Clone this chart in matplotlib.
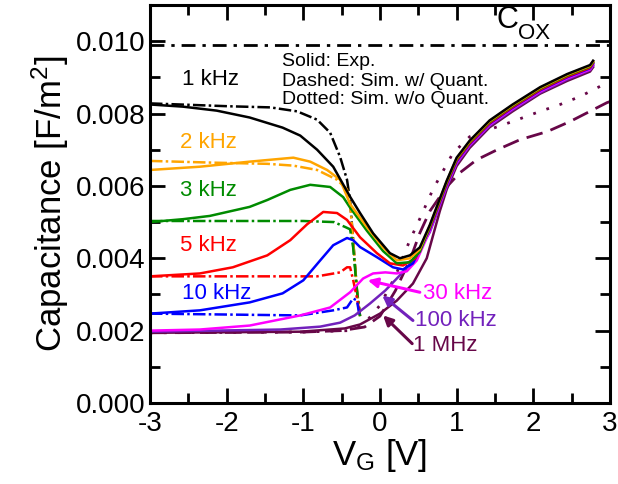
import numpy as np
import matplotlib
matplotlib.use("Agg")
import matplotlib.pyplot as plt

plt.rcParams['font.family'] = ['Liberation Sans', 'DejaVu Sans']
plt.rcParams['mathtext.fontset'] = 'custom'
plt.rcParams['mathtext.rm'] = 'Liberation Sans'
plt.rcParams['mathtext.it'] = 'Liberation Sans:italic'

# ---- experimental (solid) curves ----
v_1k = [-3, -2.57, -2.13, -1.70, -1.27, -1.04, -0.82, -0.61, -0.39, -0.26, -0.09, 0.13, 0.26, 0.39, 0.52,
        0.65, 0.87, 1.0, 1.17, 1.43, 1.73, 2.09, 2.44, 2.74, 2.78]
c_1k = [0.00825, 0.00819, 0.00808, 0.00789, 0.00761, 0.00739, 0.0070, 0.00653, 0.0057, 0.00525, 0.00469,
        0.00414, 0.0040, 0.00408, 0.0043, 0.00492, 0.00614, 0.00678, 0.00725, 0.00781, 0.00825, 0.00873,
        0.00909, 0.00934, 0.00946]

v_2k = [-3, -2.35, -1.70, -1.13, -0.91, -0.69, -0.52, -0.39, -0.17, 0.04, 0.22, 0.39, 0.52, 0.65, 0.87,
        1.0, 1.17, 1.43, 1.73, 2.09, 2.44, 2.74, 2.78]
c_2k = [0.00644, 0.00653, 0.00667, 0.00678, 0.00667, 0.00644, 0.00617, 0.0055, 0.00486, 0.0043, 0.00394,
        0.0040, 0.00425, 0.0049, 0.00612, 0.00676, 0.00723, 0.00779, 0.00823, 0.00871, 0.00907, 0.00932,
        0.00944]

v_3k = [-3, -2.57, -2.22, -1.70, -1.47, -1.17, -0.91, -0.65, -0.48, -0.39, -0.17, 0.04, 0.22, 0.39, 0.52,
        0.65, 0.87, 1.0, 1.17, 1.43, 1.73, 2.09, 2.44, 2.74, 2.78]
c_3k = [0.0050, 0.00508, 0.00517, 0.00542, 0.00561, 0.00589, 0.00603, 0.00597, 0.00569, 0.0054, 0.00476,
        0.0042, 0.00386, 0.00389, 0.00418, 0.00487, 0.0061, 0.00674, 0.00721, 0.00777, 0.00821, 0.00869,
        0.00905, 0.0093, 0.00942]

v_5k = [-3, -2.35, -1.92, -1.47, -1.17, -0.95, -0.74, -0.56, -0.43, -0.26, -0.04, 0.13, 0.30, 0.46, 0.65,
        0.87, 1.0, 1.17, 1.43, 1.73, 2.09, 2.44, 2.74, 2.78]
c_5k = [0.0035, 0.00358, 0.00375, 0.00408, 0.0045, 0.00494, 0.00528, 0.00525, 0.00506, 0.00458, 0.00414,
        0.00386, 0.0038, 0.0040, 0.00484, 0.00607, 0.00671, 0.00718, 0.00774, 0.00818, 0.00866, 0.00902,
        0.00927, 0.0094]

v_10k = [-3, -2.35, -1.70, -1.27, -1.0, -0.78, -0.61, -0.43, -0.35, -0.26, -0.04, 0.17, 0.30, 0.43, 0.65,
         0.87, 1.0, 1.17, 1.43, 1.73, 2.09, 2.44, 2.74, 2.78]
c_10k = [0.00247, 0.00256, 0.00278, 0.00303, 0.00339, 0.00394, 0.00436, 0.00456, 0.0045, 0.00431, 0.00403,
         0.00375, 0.00369, 0.00386, 0.00481, 0.00604, 0.00668, 0.00716, 0.00772, 0.00816, 0.00864, 0.009,
         0.00925, 0.00938]

v_30k = [-3, -2.35, -1.70, -1.30, -1.04, -0.65, -0.39, -0.22, -0.09, 0.07, 0.22, 0.35, 0.48, 0.65, 0.87,
         1.0, 1.17, 1.43, 1.73, 2.09, 2.44, 2.74, 2.78]
c_30k = [0.0020, 0.00203, 0.00214, 0.00231, 0.00242, 0.00264, 0.00306, 0.00344, 0.00358, 0.00361, 0.00358,
         0.00364, 0.00394, 0.00476, 0.006, 0.00664, 0.00713, 0.00769, 0.00813, 0.00861, 0.00897, 0.00922,
         0.00935]

v_100k = [-3, -1.30, -0.78, -0.52, -0.33, -0.13, 0.07, 0.26, 0.43, 0.65, 0.87, 1.0, 1.17, 1.43, 1.73,
          2.09, 2.44, 2.74, 2.78]
c_100k = [0.00197, 0.00203, 0.00211, 0.00222, 0.00242, 0.00275, 0.00311, 0.00353, 0.00394, 0.00472,
          0.00597, 0.00661, 0.0071, 0.00766, 0.0081, 0.00858, 0.00894, 0.0092, 0.00932]

v_1m = [-3, -1.04, -0.46, -0.26, 0.0, 0.22, 0.43, 0.61, 0.78, 0.87, 1.0, 1.17, 1.43, 1.73, 2.09, 2.44,
        2.74, 2.78]
c_1m = [0.00194, 0.00197, 0.00206, 0.00217, 0.00247, 0.00283, 0.0033, 0.0040, 0.0053, 0.0059, 0.00655,
        0.00705, 0.00762, 0.00806, 0.00855, 0.0089, 0.00916, 0.00928]

# ---- simulation w/ quantization (dash-dot), low frequencies ----
vs_1k = [-3, -1.96, -1.43, -1.08, -0.82, -0.65, -0.52, -0.43, -0.39, -0.35, -0.30, -0.26]
cs_1k = [0.00828, 0.0082, 0.00817, 0.00806, 0.00783, 0.00747, 0.0068, 0.00617, 0.0056, 0.0045, 0.0031, 0.0024]
vs_2k = [-3, -2.13, -1.47, -1.13, -0.82, -0.56, -0.43, -0.39, -0.35, -0.30, -0.26]
cs_2k = [0.00669, 0.00664, 0.00661, 0.00656, 0.00644, 0.00617, 0.0059, 0.0055, 0.0045, 0.0031, 0.0024]
vs_3k = [-3, -1.0, -0.6, -0.45, -0.39, -0.35, -0.30, -0.26]
cs_3k = [0.00503, 0.00503, 0.0050, 0.00486, 0.0048, 0.0043, 0.0031, 0.0024]
vs_5k = [-3, -0.82, -0.52, -0.43, -0.39, -0.35, -0.30, -0.26]
cs_5k = [0.0035, 0.0035, 0.00361, 0.00375, 0.00375, 0.0034, 0.0029, 0.0024]
vs_10k = [-3, -1.04, -0.61, -0.43, -0.35, -0.30, -0.27]
cs_10k = [0.00247, 0.00242, 0.00256, 0.00264, 0.00289, 0.00283, 0.00245]

# ---- 1 MHz simulations ----
vs_1m = [-3, -1.0, -0.5, -0.2, 0.0, 0.2, 0.4, 0.52, 0.65, 0.87, 1.04, 1.26, 1.53, 1.83, 2.18, 2.48, 2.96, 3.0]
cs_1m = [0.00194, 0.00196, 0.002, 0.0021, 0.0024, 0.0031, 0.0040, 0.0047, 0.0053, 0.00597, 0.00636,
         0.00672, 0.007, 0.00728, 0.0075, 0.00778, 0.0083, 0.00833]
vd_1m = [-3, -1.0, -0.4, -0.2, 0.0, 0.2, 0.39, 0.50, 0.69, 0.95, 1.17, 1.43, 1.73, 2.05, 2.35, 2.61, 2.87, 3.0]
cd_1m = [0.00194, 0.00196, 0.002, 0.0022, 0.0027, 0.0035, 0.0045, 0.0050, 0.0059, 0.0069, 0.00736,
         0.00756, 0.00778, 0.00803, 0.00825, 0.00847, 0.00875, 0.00886]

c_ox = 0.0099

col_1k, col_2k, col_3k = 'black', '#ffa500', '#008b00'
col_5k, col_10k, col_30k = '#ff0000', '#0000ff', '#ff00ff'
col_100k, col_1m = '#7221bc', '#670748'

fig = plt.figure(figsize=(6.18, 4.84), dpi=100)
ax = fig.add_axes([0.2427, 0.1674, 0.7443, 0.8223])

dd = (5, 1.3, 1, 1.3)
lw = 1.8
ax.plot([-3, 3], [c_ox, c_ox], color='black', lw=2, dashes=(5, 2.5, 1.2, 2.5))

ax.plot(vs_1m, cs_1m, color=col_1m, lw=2, dashes=(6, 3))
ax.plot(vd_1m, cd_1m, color=col_1m, lw=2, dashes=(1, 4))

for v, c, col in [(vs_1k, cs_1k, col_1k), (vs_2k, cs_2k, col_2k), (vs_3k, cs_3k, col_3k),
                  (vs_5k, cs_5k, col_5k), (vs_10k, cs_10k, col_10k)]:
    ax.plot(v, c, color=col, lw=lw, dashes=dd)

for v, c, col in [(v_1m, c_1m, col_1m), (v_100k, c_100k, col_100k), (v_30k, c_30k, col_30k),
                  (v_10k, c_10k, col_10k), (v_5k, c_5k, col_5k), (v_3k, c_3k, col_3k),
                  (v_2k, c_2k, col_2k), (v_1k, c_1k, col_1k)]:
    ax.plot(v, c, color=col, lw=lw)

fs = 16
ax.text(-2.58, 0.00894, '1 kHz', color=col_1k, fontsize=fs, va='center')
ax.text(-2.61, 0.0072, '2 kHz', color=col_2k, fontsize=fs, va='center')
ax.text(-2.61, 0.00586, '3 kHz', color=col_3k, fontsize=fs, va='center')
ax.text(-2.61, 0.00436, '5 kHz', color=col_5k, fontsize=fs, va='center')
ax.text(-2.58, 0.00303, '10 kHz', color=col_10k, fontsize=fs, va='center')
ax.text(0.56, 0.00303, '30 kHz', color=col_30k, fontsize=fs, va='center')
ax.text(0.46, 0.00228, '100 kHz', color=col_100k, fontsize=fs, va='center')
ax.text(0.43, 0.00158, '1 MHz', color=col_1m, fontsize=fs, va='center')

ap = dict(arrowstyle='-|>', lw=2.2, mutation_scale=14, shrinkA=0, shrinkB=0)
ax.annotate('', xy=(-0.16, 0.00339), xytext=(0.52, 0.00306), arrowprops=dict(ap, color=col_30k))
ax.annotate('', xy=(0.03, 0.00297), xytext=(0.43, 0.00228), arrowprops=dict(ap, color=col_100k))
ax.annotate('', xy=(0.04, 0.00242), xytext=(0.42, 0.00164), arrowprops=dict(ap, color=col_1m))

ax.text(-1.28, 0.00944, 'Solid: Exp.', fontsize=14, va='center')
ax.text(-1.28, 0.00889, 'Dashed: Sim. w/ Quant.', fontsize=14, va='center')
ax.text(-1.28, 0.00839, 'Dotted: Sim. w/o Quant.', fontsize=14, va='center')
ax.text(1.52, 0.01058, 'C', fontsize=22, va='center')
ax.text(1.80, 0.01022, 'OX', fontsize=16, va='center')

ax.set_xlim(-3, 3)
ax.set_ylim(0, 0.011)
ax.set_xticks([-3, -2, -1, 0, 1, 2, 3])
ax.set_xticklabels(['-3', '-2', '-1', '0', '1', '2', '3'])
ax.set_xticks(np.arange(-2.5, 3, 1.0), minor=True)
ax.set_yticks([0, 0.002, 0.004, 0.006, 0.008, 0.010])
ax.set_yticklabels(['0.000', '0.002', '0.004', '0.006', '0.008', '0.010'])
ax.set_yticks([0.001, 0.003, 0.005, 0.007, 0.009, 0.011], minor=True)
ax.tick_params(which='both', direction='in', top=True, right=True, width=2, labelsize=20)
ax.tick_params(which='major', length=11)
ax.tick_params(axis='y', which='major', pad=3)
ax.tick_params(axis='x', which='major', pad=6)
ax.tick_params(which='minor', length=7)
for s in ax.spines.values():
    s.set_linewidth(2.2)

ax.set_xlabel(r'V$_\mathregular{G}$ [V]', fontsize=25, labelpad=0)
ax.set_ylabel(r'Capacitance [F/m$^\mathregular{2}$]', fontsize=25, labelpad=4)

fig.savefig('out.png', dpi=100)
